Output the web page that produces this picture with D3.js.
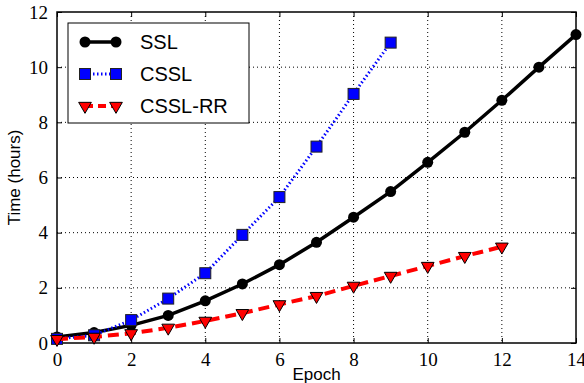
<!DOCTYPE html>
<html>
<head>
<meta charset="utf-8">
<script src="https://cdn.jsdelivr.net/npm/d3@7"></script>
<style>
  body { margin: 0; background: #fff; }
</style>
</head>
<body>
<div id="chart"></div>
<script>
    var sslEpochs = [0, 1, 2, 3, 4, 5, 6, 7, 8, 9, 10, 11, 12, 13, 14];
    var sslTime = [0.22, 0.38, 0.64, 1.0, 1.53, 2.14, 2.84, 3.65, 4.56, 5.49, 6.55, 7.64, 8.8, 10.0, 11.18];

    var csslEpochs = [0, 1, 2, 3, 4, 5, 6, 7, 8, 9];
    var csslTime = [0.15, 0.28, 0.83, 1.61, 2.53, 3.92, 5.29, 7.12, 9.03, 10.89];

    var rrEpochs = [0, 1, 2, 3, 4, 5, 6, 7, 8, 9, 10, 11, 12];
    var rrTime = [0.14, 0.22, 0.35, 0.55, 0.8, 1.08, 1.4, 1.7, 2.07, 2.43, 2.79, 3.15, 3.49];

    var xTicks = [0, 2, 4, 6, 8, 10, 12, 14];
    var yTicks = [0, 2, 4, 6, 8, 10, 12];

    var seriesNames = ["SSL", "CSSL", "CSSL-RR"];

    var width = 584;
    var height = 383;
    var margin = { top: 12, right: 8, left: 57, bottom: 40 };

    var svg = d3.select('#chart').append("svg")
        .attr("width", width)
        .attr("height", height)
      .append("g")
        .attr("transform", "translate(" + margin.left + "," + margin.top + ")");

    var w = width - margin.left - margin.right;
    var h = height - margin.top - margin.bottom;

    var x = d3.scaleLinear().domain([0, 14]).range([0, w]);
    var y = d3.scaleLinear().domain([0, 12]).range([h, 0]);

    // grid
    svg.append("g").selectAll("line")
        .data(xTicks.slice(1, -1))
        .enter().append("line")
          .attr("x1", function(d) { return x(d); })
          .attr("x2", function(d) { return x(d); })
          .attr("y1", 0).attr("y2", h)
          .attr("stroke", "#000").attr("stroke-width", 1)
          .attr("stroke-dasharray", "1,3");

    svg.append("g").selectAll("line")
        .data(yTicks.slice(1, -1))
        .enter().append("line")
          .attr("y1", function(d) { return y(d); })
          .attr("y2", function(d) { return y(d); })
          .attr("x1", 0).attr("x2", w)
          .attr("stroke", "#000").attr("stroke-width", 1)
          .attr("stroke-dasharray", "1,3");

    // axes with inward ticks
    svg.append("g")
        .attr("transform", "translate(0," + h + ")")
        .call(d3.axisBottom(x).tickValues(xTicks).tickSize(-5).tickPadding(10))
        .attr("font-family", "Liberation Serif, DejaVu Serif, serif")
        .attr("font-size", 19)
        .call(function(g) { g.select(".domain").remove(); })
        .selectAll("text").attr("fill", "#000");

    svg.append("g")
        .call(d3.axisLeft(y).tickValues(yTicks).tickSize(-5).tickPadding(9))
        .attr("font-family", "Liberation Serif, DejaVu Serif, serif")
        .attr("font-size", 19)
        .call(function(g) { g.select(".domain").remove(); })
        .selectAll("text").attr("fill", "#000");

    svg.append("g")
        .attr("transform", "translate(" + w + ",0)")
        .call(d3.axisRight(y).tickValues(yTicks).tickSize(-5).tickFormat(""))
        .call(function(g) { g.select(".domain").remove(); });

    svg.append("g")
        .call(d3.axisTop(x).tickValues(xTicks).tickSize(-5).tickFormat(""))
        .call(function(g) { g.select(".domain").remove(); });

    svg.append("rect")
        .attr("width", w).attr("height", h)
        .attr("fill", "none").attr("stroke", "#000").attr("stroke-width", 1.5);

    var line = d3.line()
        .x(function(d) { return x(d[0]); })
        .y(function(d) { return y(d[1]); });

    var ssl = d3.zip(sslEpochs, sslTime);
    var cssl = d3.zip(csslEpochs, csslTime);
    var rr = d3.zip(rrEpochs, rrTime);

    var plot = svg.append("g");

    // SSL
    plot.append("path").datum(ssl)
        .attr("d", line).attr("fill", "none")
        .attr("stroke", "#000").attr("stroke-width", 3.5);
    plot.selectAll(".ssl").data(ssl).enter().append("circle")
        .attr("class", "ssl")
        .attr("cx", function(d) { return x(d[0]); })
        .attr("cy", function(d) { return y(d[1]); })
        .attr("r", 5.5).attr("fill", "#000");

    // CSSL
    plot.append("path").datum(cssl)
        .attr("d", line).attr("fill", "none")
        .attr("stroke", "#0000ff").attr("stroke-width", 3)
        .attr("stroke-dasharray", "1.5,2.5");
    plot.selectAll(".cssl").data(cssl).enter().append("rect")
        .attr("class", "cssl")
        .attr("x", function(d) { return x(d[0]) - 5.5; })
        .attr("y", function(d) { return y(d[1]) - 5.5; })
        .attr("width", 11).attr("height", 11)
        .attr("fill", "#0000ff").attr("stroke", "#222").attr("stroke-width", 1);

    // CSSL-RR
    var tri = d3.symbol().type(d3.symbolTriangle).size(70);
    plot.append("path").datum(rr)
        .attr("d", line).attr("fill", "none")
        .attr("stroke", "#ff0000").attr("stroke-width", 4)
        .attr("stroke-dasharray", "11,6");
    plot.selectAll(".rr").data(rr).enter().append("path")
        .attr("class", "rr")
        .attr("d", tri)
        .attr("transform", function(d) { return "translate(" + x(d[0]) + "," + y(d[1]) + ") rotate(180)"; })
        .attr("fill", "#ff0000").attr("stroke", "#000").attr("stroke-width", 1);

    // axis labels
    svg.append("text")
        .attr("x", w / 2).attr("y", h + 37)
        .attr("text-anchor", "middle")
        .attr("font-family", "Liberation Sans, Arial, sans-serif")
        .attr("font-size", 17)
        .text("Epoch");

    svg.append("text")
        .attr("transform", "translate(-37," + (h / 2) + ") rotate(-90)")
        .attr("text-anchor", "middle")
        .attr("font-family", "Liberation Sans, Arial, sans-serif")
        .attr("font-size", 17)
        .text("Time (hours)");

    // legend
    var legend = svg.append("g").attr("transform", "translate(11,11)");
    legend.append("rect")
        .attr("width", 181).attr("height", 100)
        .attr("fill", "#fff").attr("stroke", "#000").attr("stroke-width", 1);

    var items = legend.selectAll(".item")
        .data(seriesNames)
        .enter().append("g")
          .attr("transform", function(d, i) { return "translate(0," + (19 + i * 32) + ")"; });

    items.append("line")
        .attr("x1", 17).attr("x2", 48)
        .attr("stroke", function(d, i) { return ["#000", "#0000ff", "#ff0000"][i]; })
        .attr("stroke-width", function(d, i) { return [3.5, 3, 4][i]; })
        .attr("stroke-dasharray", function(d, i) { return [null, "1.5,2.5", "8,5"][i]; });

    items.each(function(d, i) {
      var g = d3.select(this);
      [17, 48].forEach(function(px) {
        if (i === 0) {
          g.append("circle").attr("cx", px).attr("r", 5.5).attr("fill", "#000");
        } else if (i === 1) {
          g.append("rect").attr("x", px - 5.5).attr("y", -5.5).attr("width", 11).attr("height", 11)
            .attr("fill", "#0000ff").attr("stroke", "#222").attr("stroke-width", 1);
        } else {
          g.append("path").attr("d", tri)
            .attr("transform", "translate(" + px + ",0) rotate(180)")
            .attr("fill", "#ff0000").attr("stroke", "#000").attr("stroke-width", 1);
        }
      });
    });

    items.append("text")
        .attr("x", 72).attr("dy", "0.35em")
        .attr("font-family", "Liberation Sans, Arial, sans-serif")
        .attr("font-size", 20)
        .text(function(d) { return d; });
</script>
</body>
</html>
